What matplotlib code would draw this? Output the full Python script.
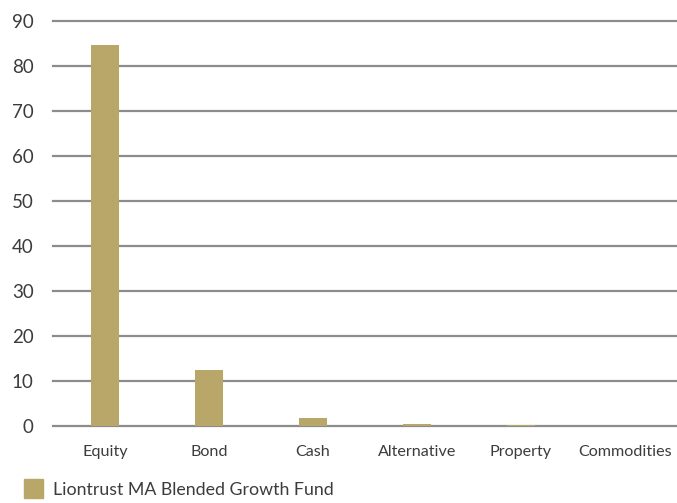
import matplotlib.pyplot as plt
import numpy as np
from matplotlib.patches import Rectangle

categories = ['Equity', 'Bond', 'Cash', 'Alternative', 'Property', 'Commodities']
weights = [84.7, 12.4, 1.8, 0.5, 0.3, 0.1]
yticks = [0, 10, 20, 30, 40, 50, 60, 70, 80, 90]
fund_name = 'Liontrust MA Blended Growth Fund'

BAR = '#B9A76A'
GRID = '#8C8C8C'
TEXT = '#3C3C3C'

plt.rcParams['font.family'] = ['Lato', 'DejaVu Sans']
plt.rcParams['font.weight'] = 'normal'

fig = plt.figure(figsize=(6.77, 5.03), dpi=100)
ax = fig.add_axes([53 / 677, 1 - 426 / 503, 1 - 53 / 677, 405 / 503])

x = np.arange(len(categories))
ax.bar(x, weights, width=0.27, color=BAR, zorder=3)

ax.set_xlim(-0.5, len(categories) - 0.5)
ax.set_ylim(0, 90)
ax.set_yticks(yticks)
ax.set_xticks(x)
ax.set_xticklabels(categories)
for v in yticks:
    ax.axhline(v, color=GRID, linewidth=1.6, zorder=1, clip_on=False)

for s in ax.spines.values():
    s.set_visible(False)
ax.tick_params(axis='both', length=0, colors=TEXT, labelcolor=TEXT)
ax.tick_params(axis='y', pad=14, labelsize=13.5)
ax.tick_params(axis='x', pad=14, labelsize=11.6)

# legend drawn by hand at the bottom left
fig.patches.append(Rectangle((24 / 677, 1 - 498 / 503), 19 / 677, 19 / 503,
                             transform=fig.transFigure, color=BAR, figure=fig))
fig.text(53 / 677, 1 - 490 / 503, fund_name, fontsize=12.8, color=TEXT,
         va='center', ha='left')

fig.savefig('out.png', dpi=100)
